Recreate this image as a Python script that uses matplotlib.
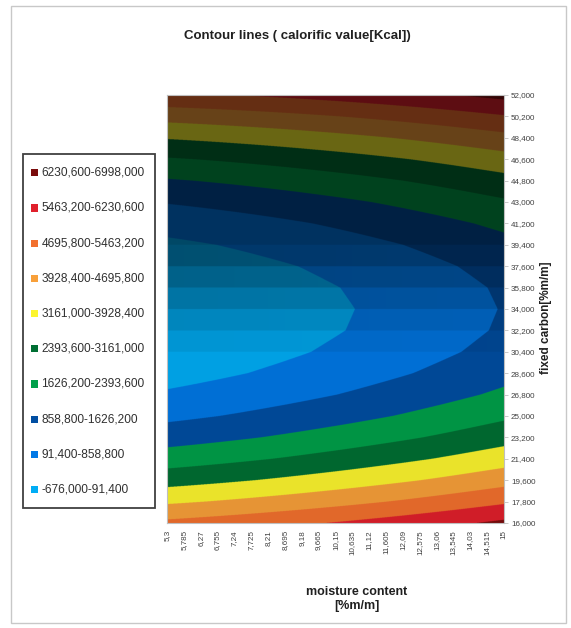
import numpy as np
import matplotlib
matplotlib.use("Agg")
import matplotlib.pyplot as plt
from matplotlib.patches import Rectangle
from matplotlib.colors import to_rgb

# ---- data -------------------------------------------------------------
moisture = [5.3, 5.785, 6.27, 6.755, 7.24, 7.725, 8.21, 8.695, 9.18, 9.665,
            10.15, 10.635, 11.12, 11.605, 12.09, 12.575, 13.06, 13.545,
            14.03, 14.515, 15.0]
fixed_carbon = [16.0, 17.8, 19.6, 21.4, 23.2, 25.0, 26.8, 28.6, 30.4, 32.2,
                34.0, 35.8, 37.6, 39.4, 41.2, 43.0, 44.8, 46.6, 48.4, 50.2,
                52.0]

# calorific value along the valley, one value per moisture column
column_base = [-645, -592, -536, -478, -417, -354, -288, -220, -149, -75,
               0, 78, 159, 242, 327, 416, 507, 601, 698, 797, 895]
# rise of calorific value away from the valley, per carbon row,
# at the low-moisture side and at the high-moisture side
row_offset_low = [5514, 4447, 3494, 2656, 1933, 1324, 831, 451, 187, 37,
                  2, 82, 276, 585, 1009, 1547, 2201, 2968, 3851, 4848, 5960]
row_offset_high = [5490, 4444, 3509, 2684, 1969, 1365, 871, 488, 215, 52,
                   0, 58, 227, 506, 896, 1396, 2006, 2727, 3558, 4500, 5552]

levels = [-676.0, 91.4, 858.8, 1626.2, 2393.6, 3161.0, 3928.4, 4695.8,
          5463.2, 6230.6, 6998.0]
band_colors = ["#00adf5", "#0078e6", "#004ea2", "#00a04a", "#006f33",
               "#fcf52e", "#f8a03a", "#f2702e", "#e0202c", "#7a0c0c"]

# ---- helpers ------------------------------------------------------------
W, H = 571, 628


def fx(px):
    return px / W


def fy(py):
    return 1 - py / H


def comma(v, fmt):
    return format(v, fmt).replace(".", ",")


def shade(slope):
    """Lambert-style lighting of a surface cell with the given dZ/dy."""
    s = slope / 317.0
    th = np.deg2rad(57.5)
    nl = (np.cos(th) - s * np.sin(th)) / np.sqrt(1 + s * s)
    return 0.93 * np.minimum(1.0, 0.45 + 0.652 * np.maximum(0.0, nl))


plt.rcParams["font.family"] = ["Liberation Sans", "DejaVu Sans"]

fig = plt.figure(figsize=(W / 100, H / 100), dpi=100)
fig.patch.set_facecolor("white")

# outer chart-area frame
fig.patches.append(Rectangle((fx(11), fy(623)), fx(566) - fx(11), fy(6) - fy(623),
                             transform=fig.transFigure, fill=False,
                             edgecolor="#c8c8c8", linewidth=1.0))

ax = fig.add_axes([fx(167), fy(523), fx(504) - fx(167), fy(95) - fy(523)])

X = np.array(moisture)
Y = np.array(fixed_carbon)
wgt = (X - X[0]) / (X[-1] - X[0])
Z = (np.array(column_base, float)[None, :]
     + np.outer(row_offset_low, 1 - wgt) + np.outer(row_offset_high, wgt))

# lighting per grid cell from the cell's slope along the carbon axis
cell_slope = 0.5 * ((Z[1:, :-1] - Z[:-1, :-1]) + (Z[1:, 1:] - Z[:-1, 1:])) \
    / np.diff(Y)[:, None]
cell_light = shade(cell_slope)

# sample the bilinear surface finely, classify into contour bands
xs = np.linspace(X[0], X[-1], 1348)
ys = np.linspace(Y[0], Y[-1], 1712)
j = np.clip(np.searchsorted(X, xs, side="right") - 1, 0, len(X) - 2)
i = np.clip(np.searchsorted(Y, ys, side="right") - 1, 0, len(Y) - 2)
t = (xs - X[j]) / (X[j + 1] - X[j])
u = (ys - Y[i]) / (Y[i + 1] - Y[i])
z00 = Z[np.ix_(i, j)]
z01 = Z[np.ix_(i, j + 1)]
z10 = Z[np.ix_(i + 1, j)]
z11 = Z[np.ix_(i + 1, j + 1)]
zf = (1 - u)[:, None] * ((1 - t) * z00 + t * z01) + u[:, None] * ((1 - t) * z10 + t * z11)

band = np.clip(np.digitize(zf, levels[1:-1]), 0, len(band_colors) - 1)
base_rgb = np.array([to_rgb(c) for c in band_colors])
rgb = base_rgb[band] * cell_light[np.ix_(i, j)][..., None]
rgb = np.clip(rgb, 0, 1)

ax.imshow(rgb, origin="lower", extent=[X[0], X[-1], Y[0], Y[-1]],
          aspect="auto", interpolation="antialiased",
          interpolation_stage="rgba")

ax.set_xlim(moisture[0], moisture[-1])
ax.set_ylim(fixed_carbon[0], fixed_carbon[-1])

ax.set_xticks(moisture)
ax.set_xticklabels([comma(v, "g") for v in moisture], rotation=90,
                   fontsize=5.8, color="#404040")
ax.yaxis.tick_right()
ax.set_yticks(fixed_carbon)
ax.set_yticklabels([comma(v, ".3f") for v in fixed_carbon], fontsize=5.8,
                   color="#404040")
ax.tick_params(axis="x", length=0, pad=5)
ax.tick_params(axis="y", length=3, pad=2, color="#bfbfbf", width=0.6)
for sp in ax.spines.values():
    sp.set_edgecolor("#bfbfbf")
    sp.set_linewidth(0.8)

# titles
fig.text(fx(297), fy(36), "Contour lines ( calorific value[Kcal])",
         ha="center", va="center", fontsize=9.5, fontweight="bold",
         color="#202020")
fig.text(fx(357), fy(592), "moisture content", ha="center", va="center",
         fontsize=9, fontweight="bold", color="#202020")
fig.text(fx(357), fy(606), "[%m/m]", ha="center", va="center",
         fontsize=9, fontweight="bold", color="#202020")
fig.text(fx(546), fy(318), "fixed carbon[%m/m]", ha="center", va="center",
         rotation=90, fontsize=8.5, fontweight="bold", color="#202020")

# legend
fig.patches.append(Rectangle((fx(23), fy(508)), fx(155) - fx(23), fy(154) - fy(508),
                             transform=fig.transFigure, facecolor="white",
                             edgecolor="#404040", linewidth=1.3))
row_y0, row_step = 172.7, 35.2
for n in range(len(band_colors)):
    k = len(band_colors) - 1 - n
    yc = row_y0 + n * row_step
    fig.patches.append(Rectangle((fx(31), fy(yc + 3.6)), fx(7), fy(0) - fy(7.2),
                                 transform=fig.transFigure,
                                 facecolor=band_colors[k], edgecolor="none"))
    label = comma(levels[k], ".3f") + "-" + comma(levels[k + 1], ".3f")
    fig.text(fx(41.5), fy(yc), label, ha="left", va="center",
             fontsize=8.6, color="#303030")

fig.savefig("out.png", dpi=100, facecolor="white")
